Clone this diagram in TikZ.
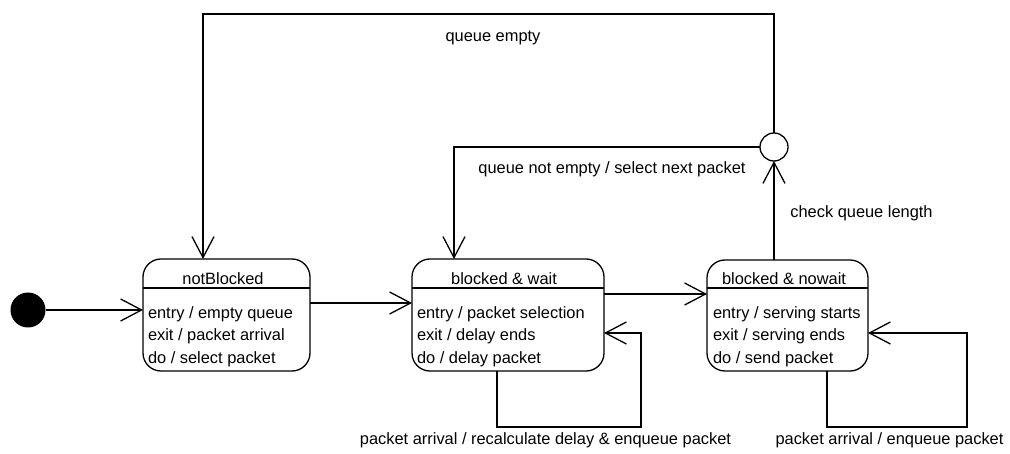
\documentclass[tikz,border=0pt]{standalone}
\usepackage{fontspec}
\setmainfont{Liberation Sans}
\usetikzlibrary{arrows.meta}
\begin{document}
\begin{tikzpicture}[x=1pt,y=-1pt,
  every node/.style={font=\fontsize{16.4}{20}\selectfont, inner sep=0pt, outer sep=0pt},
  line/.style={line width=1.3pt},
  trans/.style={line, -{Straight Barb[length=21pt,width=22pt,line width=1.3pt]}},
  statebox/.style={draw, line width=1.3pt, rounded corners=18pt, rectangle},
  lbl/.style={anchor=base},
  act/.style={anchor=base west},
]
\useasboundingbox (0,0) rectangle (1010,454);

% initial state and the choice point
\node[circle, fill=black, minimum size=35pt] (init) at (28,310) {};
\node[circle, draw, fill=white, line width=1.3pt, minimum size=28pt] (junc) at (774,147) {};

% state boxes
\node[statebox, minimum width=167pt, minimum height=112pt] (nb) at (226.5,315) {};
\node[statebox, minimum width=192pt, minimum height=112pt] (bw) at (508,315) {};
\node[statebox, minimum width=161pt, minimum height=111pt] (bn) at (787.5,315.5) {};

% header separators
\draw[line] (nb.west |- 0,288) -- (nb.east |- 0,288);
\draw[line] (bw.west |- 0,288) -- (bw.east |- 0,288);
\draw[line] (bn.west |- 0,288) -- (bn.east |- 0,288);

% state names
\node[lbl] (nbname) at (223,285) {notBlocked};
\node[lbl] (bwname) at (504,285) {blocked \& wait};
\node[lbl] (bnname) at (784,285) {blocked \& nowait};

% internal activities
\node[act] (nb1) at (148,318.5) {entry / empty queue};
\node[act] (nb2) at (148,341) {exit / packet arrival};
\node[act] (nb3) at (148,363.5) {do / select packet};
\node[act] (bw1) at (417,318.5) {entry / packet selection};
\node[act] (bw2) at (417,341) {exit / delay ends};
\node[act] (bw3) at (417,363.5) {do / delay packet};
\node[act] (bn1) at (713,318.5) {entry / serving starts};
\node[act] (bn2) at (713,341) {exit / serving ends};
\node[act] (bn3) at (713,363.5) {do / send packet};

% route corners
\coordinate (qe) at (203,14);
\coordinate (qn) at (454,147);
\coordinate (wl1) at (497,427);
\coordinate (wl2) at (641,333);
\coordinate (nl1) at (827,427);
\coordinate (nl2) at (967,333);

% transitions
\draw[trans] (init.east) -- (init -| nb.west);
\draw[trans] ([yshift=12pt]nb.east) -- ([yshift=12pt]nb.east -| bw.west);
\draw[trans] ([yshift=21pt]bw.east) -- ([yshift=21pt]bw.east -| bn.west);
\draw[trans] (bn.north -| junc) -- (junc.south);
\draw[trans] (junc.north) |- (qe) -- (qe |- nb.north);
\draw[trans] (junc.west) -- (qn) -- (qn |- bw.north);
\draw[trans] (wl1 |- bw.south) -- (wl1) -| (wl2) -- (wl2 -| bw.east);
\draw[trans] (nl1 |- bn.south) -- (nl1) -| (nl2) -- (nl2 -| bn.east);

% transition labels
\node[lbl] (lqe) at (493,42) {queue empty};
\node[lbl] (lqn) at (612,174) {queue not empty / select next packet};
\node[lbl] (lcq) at (861.5,218) {check queue length};
\node[lbl] (lwl) at (545.5,444) {packet arrival / recalculate delay \& enqueue packet};
\node[lbl] (lnl) at (889.5,444) {packet arrival / enqueue packet};
\end{tikzpicture}
\end{document}
